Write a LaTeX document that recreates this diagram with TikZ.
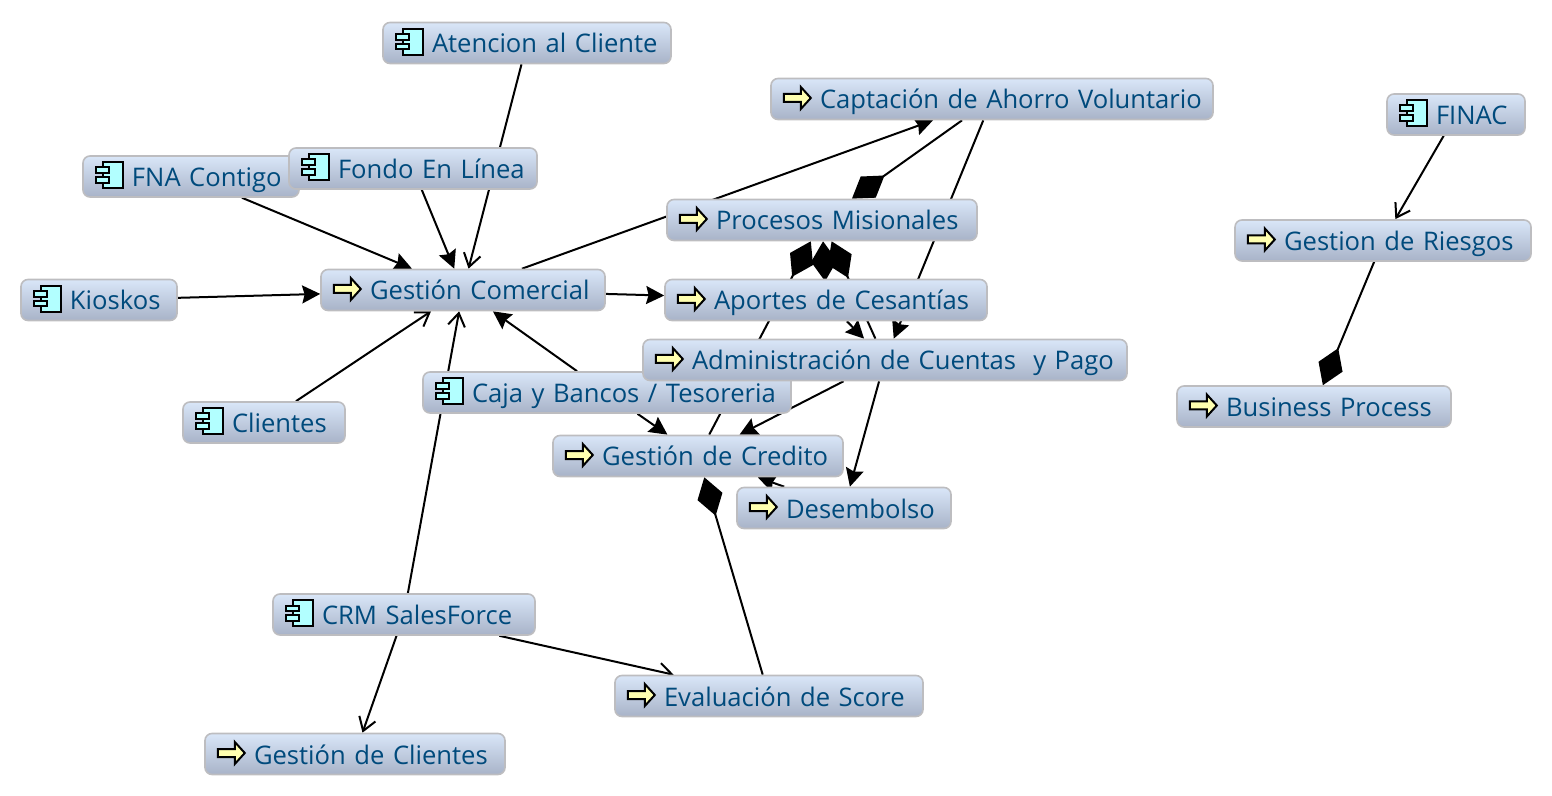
\documentclass[tikz,border=0pt]{standalone}
\usepackage{fontspec}
\setmainfont{Open Sans}
\usetikzlibrary{arrows.meta,backgrounds}
\definecolor{boxtop}{HTML}{D9E6F8}
\definecolor{boxmid}{HTML}{C9D6EC}
\definecolor{boxbottom}{HTML}{A8B3C8}
\definecolor{boxline}{HTML}{BDBDC0}
\definecolor{boxtext}{HTML}{004A7C}
\definecolor{procfill}{HTML}{FFFFB0}
\definecolor{compfill}{HTML}{B2FFFF}
\tikzset{
  basebox/.style={draw=boxline,line width=0.8pt,rounded corners=3.5pt,
    top color=boxtop,middle color=boxmid,bottom color=boxbottom,text=boxtext,inner sep=0pt,
    minimum height=20.5pt,text height=11.3pt,text depth=1.3pt,align=left,
    font=\fontsize{12.8}{15}\selectfont,execute at begin node={\hspace*{24.5pt}}},
  procbox/.style={basebox,text width=#1},
  compbox/.style={basebox,text width=#1},
  openflow/.style={line width=1pt,-{Straight Barb[length=6.5pt,width=8.5pt,line width=1pt]}},
  fillflow/.style={line width=1pt,-{Stealth[length=9pt,width=9pt,inset=1.2pt]}},
  partof/.style={line width=1pt,-{Diamond[length=20pt,width=13pt]}},
  pics/procmark/.style={code={
    \draw [fill=procfill,line width=1pt]
      (6.8pt,-1.5pt) -- (15.3pt,-1.5pt) -- (15.3pt,-5pt) -- (20.3pt,0.5pt) -- (15.3pt,6pt)
      -- (15.3pt,2.5pt) -- (6.8pt,2.5pt) -- cycle;}},
  pics/compmark/.style={code={
    \draw [fill=compfill,line width=1pt] (10.5pt,-5.8pt) rectangle (20.5pt,7.2pt);
    \draw [fill=compfill,line width=1pt] (7pt,1.7pt) rectangle (13.5pt,4.5pt);
    \draw [fill=compfill,line width=1pt] (7pt,-3.1pt) rectangle (13.5pt,-0.3pt);}},
}
\begin{document}
\begin{tikzpicture}[x=0.5pt,y=-0.5pt]
    \useasboundingbox (0,0) rectangle (1552,796);
    % components
    \node [compbox=144pt] (Ate) at (527,43) {Atencion al Cliente};
    \node [compbox=69pt] (Fin) at (1456,114.5) {FINAC};
    \node [compbox=108pt] (Fna) at (191,176.5) {FNA Contigo};
    \node [compbox=124pt] (Fon) at (413,168.5) {Fondo En Línea};
    \node [compbox=78pt] (Kio) at (99,300) {Kioskos};
    \node [compbox=184pt] (Caj) at (607,392.5) {Caja y Bancos / Tesoreria};
    \node [compbox=81pt] (Cli) at (264,422.5) {Clientes};
    \node [compbox=131pt] (Crm) at (404,614.5) {CRM SalesForce};
    % processes
    \node [procbox=221pt] (Cap) at (992,99) {Captación de Ahorro Voluntario};
    \node [procbox=155pt] (Pro) at (822,220) {Procesos Misionales};
    \node [procbox=148pt] (Rie) at (1383,240.5) {Gestion de Riesgos};
    \node [procbox=142pt] (Com) at (463,290) {Gestión Comercial};
    \node [procbox=161pt] (Apo) at (826,300) {Aportes de Cesantías};
    \node [procbox=242pt] (Adm) at (885,360) {Administración de Cuentas\ \ y Pago};
    \node [procbox=137pt] (Bus) at (1314,406.5) {Business Process};
    \node [procbox=145pt] (Cre) at (698,456) {Gestión de Credito};
    \node [procbox=107pt] (Des) at (844,508) {Desembolso};
    \node [procbox=154pt] (Eva) at (769,696) {Evaluación de Score};
    \node [procbox=150pt] (Ges) at (355,754) {Gestión de Clientes};
    % icons
    \foreach \n in {Ate,Fin,Fna,Fon,Kio,Caj,Cli,Crm}
      \pic at (\n.west) {compmark};
    \foreach \n in {Cap,Pro,Rie,Com,Apo,Adm,Bus,Cre,Des,Eva,Ges}
      \pic at (\n.west) {procmark};
    \begin{scope}[on background layer]
      \path (Ate) edge [openflow] (Com);
      \path (Fna) edge [fillflow] (Com);
      \path (Fon) edge [fillflow] (Com);
      \path (Kio) edge [fillflow] (Com);
      \path (Cli) edge [openflow] (Com);
      \path (Crm) edge [openflow] (Com);
      \path (Caj) edge [fillflow] (Com);
      \path (Com) edge [fillflow] (Apo);
      \path (Com) edge [fillflow] (Cap);
      \path (Cap) edge [partof] (Pro);
      \path (Cre) edge [partof] (Pro);
      \path (Apo) edge [partof] (Pro);
      \path (Adm) edge [partof] (Pro);
      \path (Cap) edge [fillflow] (Adm);
      \path (Apo) edge [fillflow] (Adm);
      \path (Adm) edge [fillflow] (Cre);
      \path (Adm) edge [fillflow] (Des);
      \path (Caj) edge [fillflow] (Cre);
      \path (Des) edge [fillflow] (Cre);
      \path (Eva) edge [partof] (Cre);
      \path (Crm) edge [openflow] (Eva);
      \path (Crm) edge [openflow] (Ges);
      \path (Fin) edge [openflow] (Rie);
      \path (Rie) edge [partof] (Bus);
    \end{scope}
  \end{tikzpicture}
\end{document}
